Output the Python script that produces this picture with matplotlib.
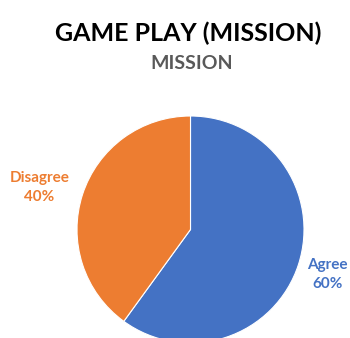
import matplotlib.pyplot as plt
import numpy as np

labels = ['Agree', 'Disagree']
values = [60, 40]
colors = ['#4472C4', '#ED7D31']


def main():
    plt.rcParams['font.family'] = ['Lato', 'DejaVu Sans']
    fig = plt.figure(figsize=(3.5, 3.38), dpi=100)

    fig.text(0.537, 0.902, 'GAME PLAY (MISSION)', ha='center', va='center',
             fontsize=18, fontweight='bold', color='#000000')
    fig.text(0.548, 0.813, 'MISSION', ha='center', va='center',
             fontsize=14, fontweight='bold', color='#595959')

    # pie centre ~ (190.5, 229.5) px from top-left, radius ~113.5 px
    r = 113.5
    cx, cy = 190.5, 338 - 229.5
    ax = fig.add_axes([(cx - r) / 350, (cy - r) / 338, 2 * r / 350, 2 * r / 338])
    total = sum(values)
    wedges, _ = ax.pie(values, colors=colors, startangle=90,
                       counterclock=False,
                       wedgeprops=dict(edgecolor='white', linewidth=0.8))

    # label distance (in radii) and small angle nudge for each slice
    dists = [1.27, 1.38]
    nudges = [0, 2.5]
    for w, l, v, c, d, n in zip(wedges, labels, values, colors, dists, nudges):
        ang = np.deg2rad((w.theta1 + w.theta2) / 2 + n)
        ax.text(d * np.cos(ang), d * np.sin(ang), f'{l}\n{v / total:.0%}',
                ha='center', va='center', color=c, fontsize=11,
                fontweight='bold', linespacing=1.45, clip_on=False)

    ax.set_aspect('equal')
    ax.set_xlim(-1, 1)
    ax.set_ylim(-1, 1)

    fig.savefig('out.png', dpi=100)


if __name__ == '__main__':
    main()
